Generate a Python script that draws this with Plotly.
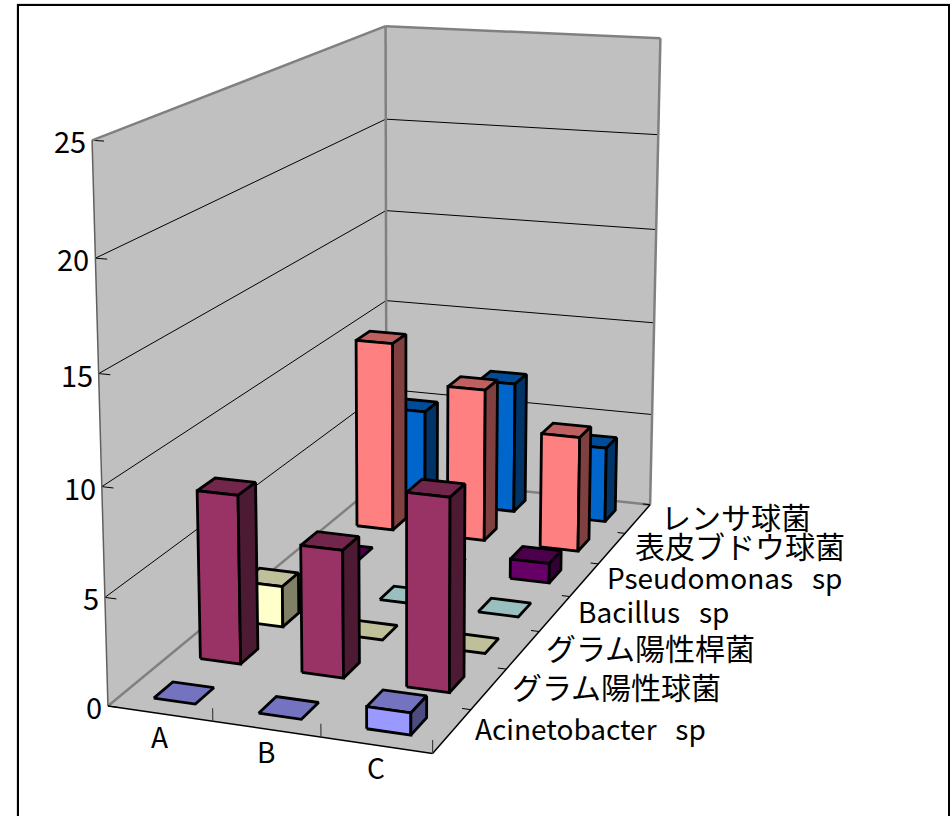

import plotly.graph_objects as go

# Chart values: percentage per sample (A, B, C) for each organism, front row first
categories = ["A", "B", "C"]
z_ticks = [0, 5, 10, 15, 20, 25]
series_names = [
    "Acinetobacter\u00a0\u00a0\u00a0sp",
    "グラム陽性球菌",
    "グラム陽性桿菌",
    "Bacillus\u00a0\u00a0\u00a0sp",
    "Pseudomonas\u00a0\u00a0\u00a0sp",
    "表皮ブドウ球菌",
    "レンサ球菌",
]
acinetobacter = [0, 0, 1]
gram_pos_cocci = [8, 6, 9]
gram_pos_rods = [2, 0, 0]
bacillus = [0, 0, 0]
pseudomonas = [0, 0, 1]
epidermidis = [10, 8, 6]
streptococcus = [5, 7, 4]
series_values = [acinetobacter, gram_pos_cocci, gram_pos_rods, bacillus,
                 pseudomonas, epidermidis, streptococcus]
series_colors = ["#9999FF", "#993366", "#FFFFCC", "#CCFFFF",
                 "#660066", "#FF8080", "#0066CC"]

# Perspective camera as a 3x4 matrix: (category, series, value, 1) -> page pixels
CAMERA = [
    [101.589062, 54.655116, -0.820268, 107.9602],
    [4.302971, -14.479092, -22.906686, 705.959622],
    [-0.015296, 0.038464, -0.002005, 1.0],
]
BAR_LO, BAR_HI = 0.3, 0.7
N_X, N_Y, Z_MAX = len(categories), len(series_names), z_ticks[-1]
WALL, EDGE = "#C0C0C0", "#808080"
JP_FONT = "Noto Sans CJK JP"


def project(x, y, z):
    u, v, w = (r[0] * x + r[1] * y + r[2] * z + r[3] for r in CAMERA)
    return u / w, v / w


def shade(color, k):
    rgb = [int(color[i:i + 2], 16) for i in (1, 3, 5)]
    return "rgb(%d,%d,%d)" % tuple(round(c * k) for c in rgb)


fig = go.Figure()


def polygon(corners, fill, line="black", width=2.8):
    pts = [project(*c) for c in corners + corners[:1]]
    fig.add_trace(go.Scatter(
        x=[p[0] for p in pts], y=[p[1] for p in pts],
        mode="lines", fill="toself", fillcolor=fill,
        line=dict(color=line, width=width, simplify=False),
        hoverinfo="skip", showlegend=False))


def segment(a, b, color="black", width=1.0):
    pa, pb = project(*a), project(*b)
    fig.add_trace(go.Scatter(
        x=[pa[0], pb[0]], y=[pa[1], pb[1]], mode="lines",
        line=dict(color=color, width=width),
        hoverinfo="skip", showlegend=False))


# Walls and floor
polygon([(0, 0, 0), (0, N_Y, 0), (0, N_Y, Z_MAX), (0, 0, Z_MAX)], WALL, WALL, 0)
polygon([(0, N_Y, 0), (N_X, N_Y, 0), (N_X, N_Y, Z_MAX), (0, N_Y, Z_MAX)], WALL, WALL, 0)
polygon([(0, 0, 0), (N_X, 0, 0), (N_X, N_Y, 0), (0, N_Y, 0)], WALL, WALL, 0)

# Value gridlines and their ticks
for z in z_ticks:
    if 0 < z < Z_MAX:
        segment((0, 0, z), (0, N_Y, z))
        segment((0, N_Y, z), (N_X, N_Y, z))
    segment((0, 0, z), (0.11, 0, z))

# Wall outlines
segment((0, 0, Z_MAX), (0, N_Y, Z_MAX), EDGE, 2.5)
segment((0, N_Y, Z_MAX), (N_X, N_Y, Z_MAX), EDGE, 2.5)
segment((0, N_Y, 0), (0, N_Y, Z_MAX), EDGE, 2.5)
segment((N_X, N_Y, 0), (N_X, N_Y, Z_MAX), EDGE, 2.5)
segment((0, 0, 0), (0, N_Y, 0), EDGE, 2.5)
segment((0, N_Y, 0), (N_X, N_Y, 0), EDGE, 2.5)
segment((0, 0, 0), (0, 0, Z_MAX), "#606060", 1.5)

# Floor edges and ticks
segment((0, 0, 0), (N_X, 0, 0), "black", 1.5)
segment((N_X, 0, 0), (N_X, N_Y, 0), "black", 1.5)
for i in range(1, N_X + 1):
    segment((i, 0, 0), (i, 0, 0.6), "#404040", 1.2)
for j in range(1, N_Y + 1):
    segment((N_X, j, 0), (N_X - 0.08, j, 0), "black", 1.0)

# Bars, painted from the back row forward and left to right
for row in reversed(range(N_Y)):
    color = series_colors[row]
    for col, value in enumerate(series_values[row]):
        x0, x1 = col + BAR_LO, col + BAR_HI
        y0, y1 = row + BAR_LO, row + BAR_HI
        polygon([(x0, y0, value), (x1, y0, value), (x1, y1, value), (x0, y1, value)],
                shade(color, 0.75))
        if value > 0:
            polygon([(x0, y0, 0), (x1, y0, 0), (x1, y0, value), (x0, y0, value)], color)
            polygon([(x1, y0, 0), (x1, y1, 0), (x1, y1, value), (x1, y0, value)],
                    shade(color, 0.5))


def label(text, x, y, anchor, size):
    fig.add_annotation(x=x, y=y, xref="x", yref="y", text=text, showarrow=False,
                       xanchor=anchor, yanchor="middle",
                       font=dict(family=JP_FONT, size=size, color="black"))


for z in z_ticks:
    u, v = project(0, 0, z)
    label(str(z), u - 4, v, "right", 29)
for col, name in enumerate(categories):
    u, v = project(col + 0.5, 0, 0)
    label(name, u, v + 22, "center", 28)
for row, name in enumerate(series_names):
    u, v = project(N_X, row + 0.5, 0)
    label(name, u + 21, v - 3, "left", 30 if ord(name[0]) > 255 else 28)

# Chart frame; its lower edge runs past the page
fig.add_shape(type="rect", x0=17, y0=4, x1=950, y1=840, line=dict(color="#C0C0C0", width=1))
fig.add_shape(type="rect", x0=18, y0=5, x1=949, y1=840, line=dict(color="black", width=2))

fig.update_layout(
    width=950, height=816, autosize=False,
    margin=dict(l=0, r=0, t=0, b=0, pad=0),
    paper_bgcolor="white", plot_bgcolor="white",
    xaxis=dict(range=[0, 950], visible=False, fixedrange=True),
    yaxis=dict(range=[816, 0], visible=False, fixedrange=True),
    hovermode=False, showlegend=False,
)
fig.write_html("out.html")
